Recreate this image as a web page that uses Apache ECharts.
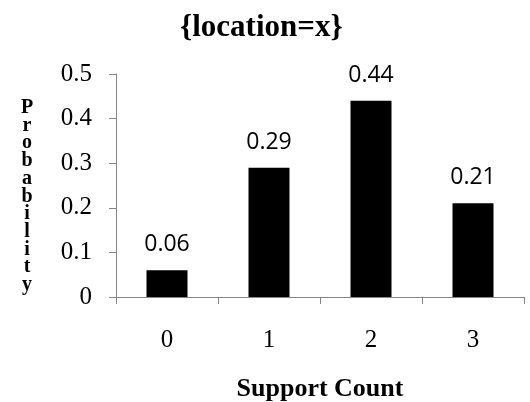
<!DOCTYPE html>
<html><head><meta charset="utf-8">
<script src="https://cdn.jsdelivr.net/npm/echarts@6/dist/echarts.min.js"></script>
<style>html,body{margin:0;padding:0;background:#fff}#c{width:530px;height:402px}</style>
</head><body><div id="c"></div>
<script>
const categories = ['0', '1', '2', '3'];
const probabilities = [0.06, 0.29, 0.44, 0.21];
const yTicks = [0, 0.1, 0.2, 0.3, 0.4, 0.5];
const titleText = '{location=x}';
const yName = 'Probability';
const xName = 'Support Count';

const chart = echarts.init(document.getElementById('c'), null, {renderer: 'canvas'});
const serif = '"Liberation Serif", "Times New Roman", serif';
chart.setOption({
  animation: false,
  title: {text: titleText, left: 175, top: 7,
    textStyle: {fontFamily: serif, fontWeight: 'bold', fontSize: 31, color: '#000'}},
  grid: {left: 116, right: 6, top: 74, bottom: 105, containLabel: false, outerBoundsMode: 'none'},
  graphic: [{type: 'text', x: 27, y: 99,
    style: {text: yName.split('').join('\n'), font: 'bold 20px ' + serif, lineHeight: 17.7,
      fill: '#000', textAlign: 'center', textVerticalAlign: 'top'}}],
  xAxis: {type: 'category', data: categories,
    name: xName, nameLocation: 'middle', nameGap: 79,
    nameTextStyle: {fontFamily: serif, fontWeight: 'bold', fontSize: 26, color: '#000'},
    axisLine: {lineStyle: {color: '#868686', width: 1}},
    axisTick: {show: true, length: 7, lineStyle: {color: '#868686'}},
    axisLabel: {fontFamily: serif, fontSize: 25, color: '#000', margin: 31}},
  yAxis: {type: 'value', min: yTicks[0], max: yTicks[yTicks.length - 1], interval: 0.1,
    splitLine: {show: false},
    axisLine: {show: true, lineStyle: {color: '#868686', width: 1}},
    axisTick: {show: true, length: 7, lineStyle: {color: '#868686'}},
    axisLabel: {fontFamily: serif, fontSize: 25, color: '#000', margin: 24,
      formatter: v => String(Math.round(v * 10) / 10)}},
  series: [{type: 'bar', data: probabilities, barWidth: 41,
    itemStyle: {color: '#000'},
    label: {show: true, position: 'top', distance: 14,
      fontFamily: '"Open Sans", "Noto Sans", sans-serif', fontSize: 23, color: '#000',
      formatter: p => p.value.toFixed(2)}}]
});
</script></body></html>
